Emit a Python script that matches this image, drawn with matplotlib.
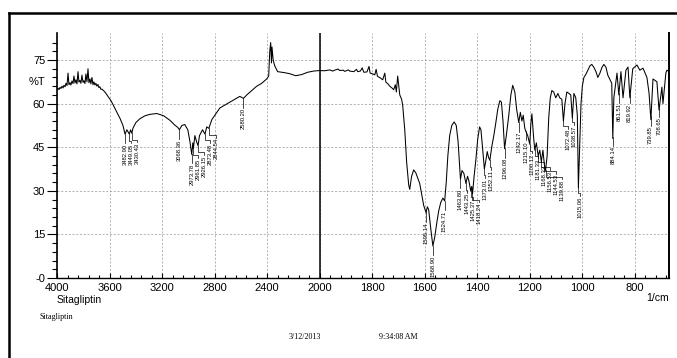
import numpy as np
import matplotlib.pyplot as plt
from matplotlib.lines import Line2D

plt.rcParams['font.family'] = ['Liberation Sans', 'DejaVu Sans']

# spectrum, 4000 -> 2000 1/cm
wn_hi = [4000, 3992, 3985, 3977, 3970, 3962, 3954, 3947, 3939, 3932, 3924, 3916, 3909, 3901,
         3894, 3886, 3878, 3871, 3863, 3856, 3848, 3840, 3833, 3825, 3818, 3810, 3802, 3795,
         3787, 3780, 3772, 3764, 3757, 3749, 3742, 3734, 3726, 3719, 3711, 3704, 3696, 3688,
         3681, 3673, 3666, 3658, 3635, 3612, 3589, 3566, 3544, 3521, 3498, 3482, 3468, 3449,
         3440, 3430, 3422, 3399, 3369, 3331, 3293, 3240, 3187, 3141, 3103, 3080, 3068, 3049,
         3027, 3004, 2988, 2974, 2966, 2962, 2950, 2938, 2926, 2915, 2892, 2873, 2860, 2844,
         2821, 2791, 2760, 2722, 2684, 2646, 2608, 2580, 2555, 2517, 2479, 2441, 2403, 2388,
         2380, 2373, 2367, 2363, 2354, 2342, 2320, 2274, 2228, 2182, 2137, 2091, 2046, 2000]
t_hi = [65.0, 65.3, 64.8, 65.6, 65.2, 66.0, 65.4, 66.3, 65.8, 67.0, 66.2, 70.5, 66.5, 67.2,
        66.4, 67.8, 66.9, 69.5, 67.1, 68.2, 66.8, 71.0, 67.4, 68.0, 67.0, 69.8, 67.3, 67.9,
        66.9, 70.2, 67.5, 72.0, 67.2, 68.5, 66.8, 69.0, 66.5, 67.5, 66.4, 67.0, 66.0, 66.6,
        65.5, 65.8, 64.9, 65.0, 64.0, 62.5, 61.0, 59.0, 57.0, 55.0, 52.5, 49.5, 51.0, 49.5,
        51.0, 49.8, 51.5, 53.5, 54.8, 55.8, 56.3, 56.6, 55.8, 54.3, 52.6, 51.8, 51.0, 52.5,
        52.8, 51.0, 47.0, 42.5, 46.5, 44.5, 49.0, 47.0, 45.5, 49.0, 51.0, 49.5, 52.0, 51.5,
        54.5, 56.5, 58.5, 59.5, 60.5, 61.5, 62.5, 61.8, 63.0, 64.5, 66.0, 67.0, 68.5, 69.5,
        78.0, 81.0, 74.0, 79.5, 75.0, 73.0, 71.0, 70.7, 70.3, 69.6, 70.0, 70.8, 71.2, 71.4]

# 2000 -> 670 1/cm (drawn at double scale)
wn_lo = [1981, 1962, 1950, 1943, 1930, 1924, 1910, 1905, 1890, 1886, 1870, 1860, 1855, 1845,
         1838, 1832, 1820, 1812, 1808, 1800, 1790, 1785, 1780, 1770, 1760, 1752, 1748, 1740,
         1733, 1725, 1718, 1712, 1708, 1703, 1695, 1688, 1684, 1676, 1669, 1661, 1657, 1650,
         1642, 1634, 1627, 1619, 1612, 1604, 1595, 1590, 1585, 1577, 1569, 1562, 1554, 1547,
         1539, 1531, 1524, 1518, 1512, 1505, 1497, 1488, 1480, 1473, 1468, 1464, 1458, 1451,
         1443, 1437, 1432, 1425, 1421, 1418, 1412, 1405, 1398, 1391, 1386, 1380, 1373, 1368,
         1362, 1357, 1352, 1345, 1337, 1330, 1322, 1314, 1308, 1302, 1296, 1288, 1280, 1272,
         1265, 1257, 1250, 1242, 1236, 1230, 1225, 1219, 1215, 1208, 1200, 1196, 1192, 1186,
         1181, 1175, 1168, 1162, 1156, 1150, 1144.5, 1140, 1134, 1128, 1122, 1116, 1109, 1101,
         1093, 1086, 1078, 1072, 1066, 1059, 1051, 1044, 1038, 1032, 1025, 1019, 1015, 1010,
         1005, 1000, 994, 987, 979, 971, 964, 956, 948, 941, 933, 925, 918, 910, 903, 888, 884,
         880, 868, 861, 853, 845, 834, 826, 819, 808, 792, 781, 769, 754, 746, 739, 731, 716,
         708, 697, 693, 682, 678, 670]
t_lo = [71.3, 71.6, 71.2, 71.5, 71.9, 71.4, 71.5, 71.1, 71.6, 71.2, 71.0, 71.8, 71.0, 71.2,
        72.3, 70.8, 70.9, 72.8, 70.5, 70.3, 69.9, 71.8, 69.4, 68.9, 68.2, 70.5, 67.4, 66.8,
        66.0, 65.4, 64.8, 66.5, 64.0, 69.5, 63.0, 61.5, 59.5, 51.0, 40.0, 32.0, 30.5, 35.0,
        37.2, 36.2, 34.5, 32.5, 29.0, 25.0, 22.5, 24.5, 23.5, 17.0, 11.0, 14.0, 19.0, 23.0,
        26.0, 27.5, 26.5, 33.0, 42.0, 49.0, 52.5, 53.7, 52.5, 47.0, 40.0, 34.0, 37.0, 36.0,
        32.5, 35.0, 33.5, 30.0, 31.5, 29.0, 35.0, 41.0, 48.0, 52.0, 51.0, 45.0, 37.5, 40.0,
        43.5, 41.5, 40.5, 45.0, 49.0, 53.0, 58.0, 61.0, 60.5, 54.0, 44.5, 50.0, 56.0, 63.0,
        66.3, 64.0, 58.0, 53.5, 57.0, 54.0, 56.0, 51.5, 50.5, 49.0, 46.0, 53.0, 56.5, 49.0,
        44.0, 46.5, 42.0, 44.0, 40.0, 44.0, 39.0, 37.0, 42.0, 55.0, 62.0, 64.5, 64.0, 62.0,
        63.5, 62.0, 61.5, 54.0, 60.0, 64.0, 63.5, 63.0, 55.0, 63.5, 62.0, 56.0, 31.0, 45.0,
        60.0, 66.0, 69.0, 70.0, 71.5, 73.0, 73.5, 72.5, 71.0, 69.0, 70.5, 72.5, 73.5, 72.5,
        69.8, 67.0, 48.0, 62.0, 70.5, 63.0, 71.0, 62.0, 71.5, 72.6, 62.0, 72.0, 73.3, 71.5,
        72.2, 69.0, 63.6, 54.5, 68.5, 67.5, 57.8, 65.7, 60.0, 70.5, 71.5, 71.0]

peak_labels = ['3482.90', '3449.05', '3430.43', '3068.36', '2973.78', '2961.85', '2926.15',
               '2873.48', '2844.54', '2580.20', '1595.14', '1568.90', '1524.71', '1463.80',
               '1443.25', '1425.37', '1418.24', '1373.01', '1352.11', '1296.08', '1242.17',
               '1215.10', '1200.12', '1181.33', '1168.33', '1156.53', '1144.53', '1139.88',
               '1072.48', '1038.57', '1015.06', '884.14', '861.51', '819.92', '739.85',
               '708.65']

wn = np.array(wn_hi + wn_lo, dtype=float)
trans = np.array(t_hi + t_lo)


def fwd(x):
    # above 2000 1/cm the axis is compressed by half
    x = np.asarray(x, dtype=float)
    return np.where(x > 2000, 2000 + (x - 2000) / 2, x)


def inv(u):
    u = np.asarray(u, dtype=float)
    return np.where(u > 2000, 2000 + (u - 2000) * 2, u)


fig = plt.figure(figsize=(6.77, 3.58), dpi=100)
ax = fig.add_axes([57 / 677, 80 / 358, 612 / 677, 245 / 358])
ax.set_xscale('function', functions=(fwd, inv))

ax.plot(wn, trans, color='black', lw=0.75)
ax.axvline(2000, color='black', lw=1.1)

# peak labels, pushed right when they would collide
curve_at = lambda w: np.interp(w, wn[::-1], trans[::-1])
last = None
for lab in peak_labels:
    w = float(lab)
    u = float(fwd(w))
    if last is not None:
        u = min(u, last - 23)
    last = u
    lx = float(inv(u))
    t0 = curve_at(w)
    lvl = t0 - 2.2
    ax.plot([w, w, lx, lx], [t0, lvl, lvl, lvl - 1.0], color='black', lw=0.5)
    ax.text(lx, lvl - 1.2, lab, rotation=90, ha='center', va='top', fontsize=4.2)

ax.set_xlim(4000, 670)
ax.set_ylim(0, 84.3)

xt = [4000, 3600, 3200, 2800, 2400, 2000, 1800, 1600, 1400, 1200, 1000, 800]
ax.set_xticks(xt)
ax.set_xticklabels([str(v) for v in xt])
ax.set_xticks(np.concatenate([np.arange(4000, 2000, -80), np.arange(2000, 670, -40)]), minor=True)
ax.set_yticks([0, 15, 30, 45, 60, 75])
ax.set_yticklabels(['-0', '15', '30', '45', '60', '75'])
ax.set_yticks(np.arange(0, 84, 3), minor=True)

ax.tick_params(axis='x', which='both', direction='in', labelsize=8, pad=3.5, width=0.8)
ax.tick_params(axis='x', which='major', length=3.5)
ax.tick_params(axis='x', which='minor', length=2.5)
ax.tick_params(axis='y', which='both', direction='out', labelsize=8, pad=1.5, width=0.8)
ax.tick_params(axis='y', which='major', length=7)
ax.tick_params(axis='y', which='minor', length=3.5)

ax.grid(True, which='major', color='#a8a8a8', ls=(0, (2.5, 2)), lw=0.6)
ax.spines['top'].set_visible(False)
ax.spines['left'].set_linewidth(1.2)
ax.spines['bottom'].set_linewidth(1.0)
ax.spines['right'].set_linewidth(1.4)

ax.text(-0.02, 67.5, '%T', transform=ax.get_yaxis_transform(), ha='right', va='center',
        fontsize=8)
fig.text(669 / 677, 1 - 298 / 358, '1/cm', ha='right', va='center', fontsize=7.5)

fig.text(57 / 677, 1 - 295 / 358, 'Sitagliptin', ha='left', va='top', fontsize=7.5)
fig.text(40 / 677, 1 - 317 / 358, 'Sitagliptin', ha='left', va='center', fontsize=5.8,
         family='Liberation Serif')
fig.text(289 / 677, 1 - 337 / 358, '3/12/2013', ha='left', va='center', fontsize=5.8,
         family='Liberation Serif')
fig.text(379 / 677, 1 - 337 / 358, '9:34:08 AM', ha='left', va='center', fontsize=5.8,
         family='Liberation Serif')

# page frame, cut off on the right and at the bottom
fig.add_artist(Line2D([8.5 / 677, 8.5 / 677], [0, 345 / 358], transform=fig.transFigure,
                      color='black', lw=1.8))
fig.add_artist(Line2D([8.5 / 677, 1], [345 / 358, 345 / 358], transform=fig.transFigure,
                      color='black', lw=1.8))

fig.savefig('out.png', dpi=100)
